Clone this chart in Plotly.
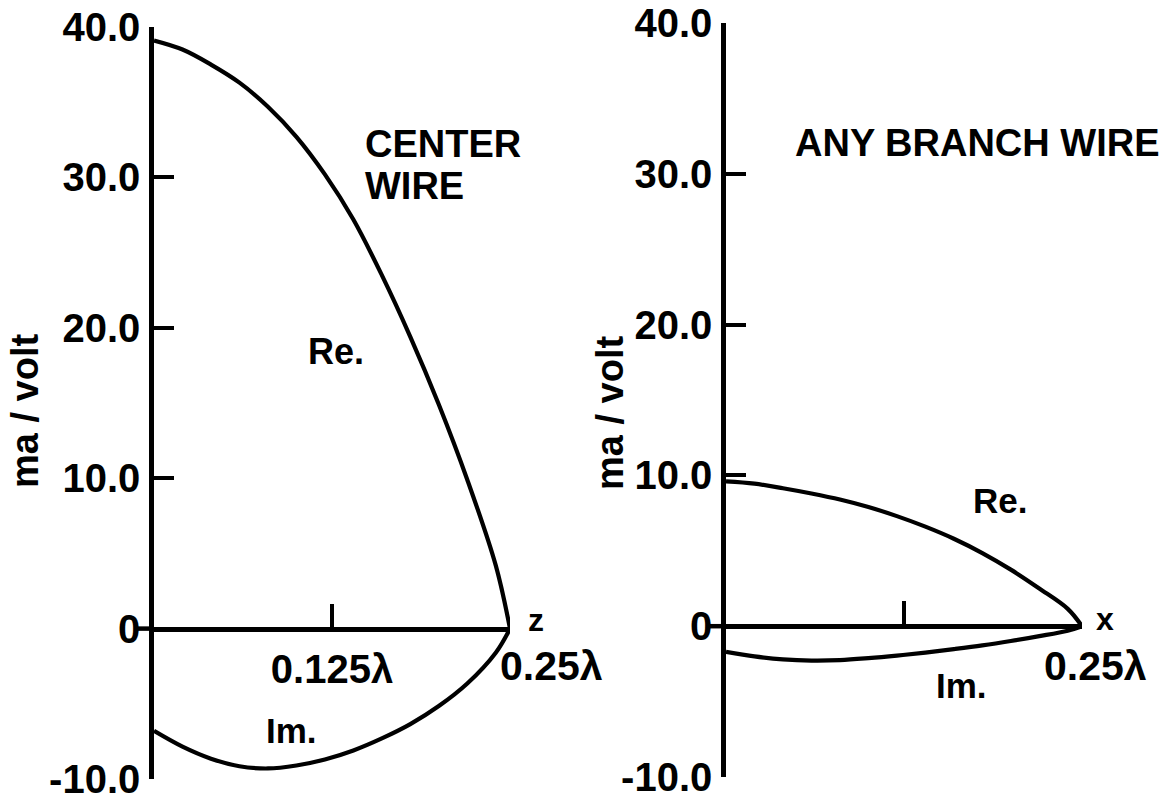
import plotly.graph_objects as go

# Position along the wire, in wavelengths
positions = [0.0, 0.02, 0.04, 0.06, 0.08, 0.10, 0.12, 0.14, 0.16, 0.18, 0.20, 0.22, 0.24, 0.25]

# Current distribution (ma/volt) on the centre wire
center_re = [39.1, 38.5, 37.5, 36.3, 34.7, 32.7, 30.2, 27.2, 23.5, 19.4, 14.9, 9.9, 4.2, 0.0]
center_im = [-6.8, -7.85, -8.65, -9.15, -9.3, -9.1, -8.7, -8.1, -7.3, -6.35, -5.15, -3.65, -1.6, 0.0]

# Current distribution (ma/volt) on any branch wire
branch_re = [9.6, 9.45, 9.15, 8.8, 8.4, 7.9, 7.3, 6.6, 5.8, 4.85, 3.75, 2.5, 1.15, 0.0]
branch_im = [-1.7, -2.0, -2.2, -2.28, -2.25, -2.12, -1.95, -1.75, -1.52, -1.27, -0.98, -0.66, -0.3, 0.0]

y_ticks = [-10, 0, 10, 20, 30, 40]
y_tick_text = ["-10.0", "0", "10.0", "20.0", "30.0", "40.0"]
x_ticks = [0.125, 0.25]
left_x_text = ["0.125λ", ""]
right_x_text = ["", ""]

W, H = 1172, 803
FONT = "Liberation Sans"
INK = "black"


def px(x, y):
    """Pixel position on the page -> paper coordinates."""
    return x / W, 1 - y / H


fig = go.Figure()
line_style = dict(color=INK, width=4.2, shape="spline", smoothing=1.0)
for xs, ys, ax in [
    (positions, center_re, ("x", "y")),
    (positions, center_im, ("x", "y")),
    (positions, branch_re, ("x2", "y2")),
    (positions, branch_im, ("x2", "y2")),
]:
    fig.add_trace(go.Scatter(x=xs, y=ys, mode="lines", line=line_style,
                             xaxis=ax[0], yaxis=ax[1], hoverinfo="skip",
                             showlegend=False, cliponaxis=False))

tick_font = dict(family=FONT, size=40, color=INK, weight="bold")


def y_axis(domain, anchor):
    return dict(domain=domain, range=[-10, 40], anchor=anchor, side="left",
                showline=True, linewidth=4.5, linecolor=INK,
                ticks="inside", ticklen=20, tickwidth=3.5, tickcolor=INK,
                tickvals=y_ticks, ticktext=y_tick_text, tickfont=tick_font,
                showgrid=False, zeroline=False, ticklabelstandoff=1,
                ticklabeloverflow="allow",
                automargin=False, fixedrange=True)


def x_axis(domain, pos, text):
    return dict(domain=domain, range=[0, 0.25], anchor="free", position=pos,
                showline=True, linewidth=4.5, linecolor=INK,
                ticks="inside", ticklen=23, tickwidth=3.5, tickcolor=INK,
                tickvals=x_ticks, ticktext=text, tickfont=tick_font,
                showgrid=False, zeroline=False, ticklabelstandoff=4,
                ticklabeloverflow="allow",
                automargin=False, fixedrange=True)


# Left panel: x = 0 at 154 px, 0.25 at 510 px; y = 40 at 27 px, -10 at 779 px
left_yd = [(H - 779) / H, (H - 27) / H]
left_xd = [154 / W, 510 / W]
left_zero = left_yd[0] + 0.2 * (left_yd[1] - left_yd[0])
# Right panel: x = 0 at 726 px, 0.25 at 1082 px; y = 40 at 23 px, -10 at 777 px
right_yd = [(H - 777) / H, (H - 23) / H]
right_xd = [726 / W, 1082 / W]
right_zero = right_yd[0] + 0.2 * (right_yd[1] - right_yd[0])

fig.update_layout(
    width=W, height=H,
    margin=dict(l=0, r=0, t=0, b=0, autoexpand=False),
    paper_bgcolor="white", plot_bgcolor="white",
    xaxis=x_axis(left_xd, left_zero, left_x_text),
    yaxis=y_axis(left_yd, "x"),
    xaxis2=x_axis(right_xd, right_zero, right_x_text),
    yaxis2=y_axis(right_yd, "x2"),
)

# Short outward stub of the zero line on the left of each vertical axis
for x0, yref in [(154, "y"), (726, "y2")]:
    fig.add_shape(type="line", xref="paper", yref=yref,
                  x0=(x0 - 16) / W, x1=x0 / W, y0=0, y1=0,
                  line=dict(color=INK, width=4.5))

text_font = dict(family=FONT, color=INK, weight="bold")
labels = [
    ("CENTER", 363, 144, 38, "left", 0),
    ("WIRE", 363, 186, 38, "left", 0),
    ("Re.", 336, 351, 36, "center", 0),
    ("Im.", 291, 730, 35, "center", 0),
    ("z", 536, 620, 32, "center", 0),
    ("0.25λ", 551, 666, 41, "center", 0),
    ("ANY BRANCH WIRE", 793, 143, 38, "left", 0),
    ("Re.", 1000, 500, 35, "center", 0),
    ("Im.", 961, 685, 35, "center", 0),
    ("x", 1105, 619, 32, "center", 0),
    ("0.25λ", 1095, 666, 41, "center", 0),
    ("ma / volt", 25, 411, 38, "center", -90),
    ("ma / volt", 610, 413, 38, "center", -90),
]
for text, lx, ly, size, anchor, angle in labels:
    ax, ay = px(lx, ly)
    fig.add_annotation(x=ax, y=ay, xref="paper", yref="paper", text=text,
                       showarrow=False, xanchor=anchor, yanchor="middle",
                       textangle=angle, font=dict(text_font, size=size))

fig.write_html("out.html", config={"displayModeBar": False})
